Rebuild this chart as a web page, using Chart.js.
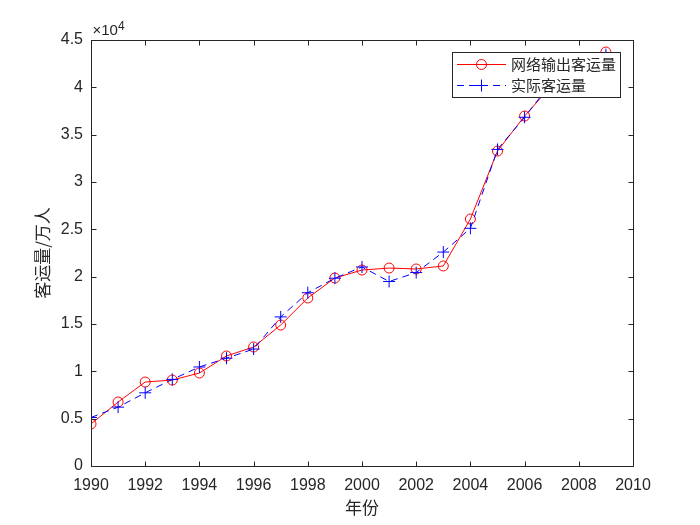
<!DOCTYPE html>
<html>
<head>
<meta charset="utf-8">
<script src="https://cdn.jsdelivr.net/npm/chart.js@4"></script>
<style>
  html, body { margin: 0; padding: 0; background: #fff; }
  #wrap { width: 700px; height: 525px; }
</style>
</head>
<body>
<div id="wrap"><canvas id="myChart" width="700" height="525"></canvas></div>
<script>
const years = [1990, 1991, 1992, 1993, 1994, 1995, 1996, 1997, 1998, 1999,
               2000, 2001, 2002, 2003, 2004, 2005, 2006, 2007, 2008, 2009];
const netOutput = [4440, 6760, 8870, 9080, 9820, 11620, 12570, 14890, 17750, 19860,
                   20700, 20910, 20810, 21130, 26090, 33270, 36970, 40200, 42600, 43730];
const actual = [5126, 6217, 7730, 9145, 10460, 11387, 12353, 15750, 18304, 19836,
                21024, 19490, 20433, 22598, 25107, 33442, 36836, 40548, 42927, 43462];
const seriesNames = ["网络输出客运量", "实际客运量"];
const xTitle = "年份";
const yTitle = "客运量/万人";

const axisColor = "#262626";
const cjkFont = "'Noto Sans CJK SC', 'Noto Sans', sans-serif";
const numFont = "'Liberation Sans', Arial, sans-serif";

function toPoints(vals) {
    return years.map(function (y, i) { return { x: y, y: vals[i] }; });
}

// box round the plot, inward ticks on all sides, x10^4 note and legend
const matlabStyle = {
    id: "matlabStyle",
    afterDraw: function (chart) {
        const ctx = chart.ctx;
        const a = chart.chartArea;
        const xs = chart.scales.x;
        const ys = chart.scales.y;
        const L = Math.round(a.left) + 0.5, R = Math.round(a.right) + 0.5;
        const T = Math.round(a.top) + 0.5, B = Math.round(a.bottom) + 0.5;
        ctx.save();
        ctx.strokeStyle = axisColor;
        ctx.lineWidth = 1;
        ctx.strokeRect(L, T, R - L, B - T);
        ctx.beginPath();
        xs.ticks.forEach(function (t) {
            const px = Math.round(xs.getPixelForValue(t.value)) + 0.5;
            ctx.moveTo(px, B); ctx.lineTo(px, B - 5);
            ctx.moveTo(px, T); ctx.lineTo(px, T + 5);
        });
        ys.ticks.forEach(function (t) {
            const py = Math.round(ys.getPixelForValue(t.value)) + 0.5;
            ctx.moveTo(L, py); ctx.lineTo(L + 5, py);
            ctx.moveTo(R, py); ctx.lineTo(R - 5, py);
        });
        ctx.stroke();

        // exponent note
        ctx.fillStyle = axisColor;
        ctx.textBaseline = "alphabetic";
        ctx.textAlign = "left";
        ctx.font = "15px " + numFont;
        ctx.fillText("\u00d710", L + 1, 35);
        const w = ctx.measureText("\u00d710").width;
        ctx.font = "12px " + numFont;
        ctx.fillText("4", L + 1 + w, 30);

        // legend
        const lx = 452.5, ly = 52.5, lw = 168, lh = 45;
        ctx.fillStyle = "#ffffff";
        ctx.fillRect(lx, ly, lw, lh);
        ctx.strokeStyle = axisColor;
        ctx.strokeRect(lx, ly, lw, lh);

        const rows = [
            { y: 64.5, color: "#ff0000", dash: [], marker: "circle" },
            { y: 85.5, color: "#0000ff", dash: [7, 5], marker: "cross" }
        ];
        rows.forEach(function (r, i) {
            ctx.strokeStyle = r.color;
            ctx.lineWidth = 1;
            ctx.setLineDash(r.dash);
            ctx.beginPath();
            ctx.moveTo(457, r.y); ctx.lineTo(506, r.y);
            ctx.stroke();
            ctx.setLineDash([]);
            ctx.beginPath();
            if (r.marker === "circle") {
                ctx.arc(481.5, r.y, 5, 0, Math.PI * 2);
            } else {
                ctx.moveTo(475.5, r.y); ctx.lineTo(487.5, r.y);
                ctx.moveTo(481.5, r.y - 6); ctx.lineTo(481.5, r.y + 6);
            }
            ctx.stroke();
            ctx.fillStyle = axisColor;
            ctx.font = "15px " + cjkFont;
            ctx.textBaseline = "middle";
            ctx.fillText(seriesNames[i], 511, r.y);
        });
        ctx.restore();
    }
};

new Chart("myChart", {
    type: "line",
    data: {
        datasets: [{
            label: seriesNames[1],
            data: toPoints(actual),
            borderColor: "#0000ff",
            backgroundColor: "transparent",
            borderWidth: 1,
            borderDash: [7, 5],
            pointStyle: "cross",
            pointRadius: 6,
            pointBorderColor: "#0000ff",
            pointBorderWidth: 1,
            tension: 0,
            order: 0
        }, {
            label: seriesNames[0],
            data: toPoints(netOutput),
            borderColor: "#ff0000",
            backgroundColor: "transparent",
            borderWidth: 1,
            pointStyle: "circle",
            pointRadius: 5,
            pointBorderColor: "#ff0000",
            pointBackgroundColor: "transparent",
            pointBorderWidth: 1,
            tension: 0,
            order: 1
        }]
    },
    options: {
        responsive: false,
        animation: false,
        layout: { padding: { left: 0, top: 40, right: 67, bottom: 0 } },
        plugins: {
            legend: { display: false },
            tooltip: { enabled: false }
        },
        scales: {
            x: {
                type: "linear",
                min: 1990,
                max: 2010,
                grid: { display: false, drawTicks: false },
                border: { display: false },
                afterFit: function (s) { s.height = 59; },
                ticks: {
                    stepSize: 2,
                    color: axisColor,
                    padding: 10,
                    maxRotation: 0,
                    font: { family: numFont, size: 16 },
                    callback: function (v) { return String(v); }
                },
                title: {
                    display: true,
                    text: xTitle,
                    color: axisColor,
                    font: { family: cjkFont, size: 17 },
                    padding: { top: 0, bottom: 7 }
                }
            },
            y: {
                min: 0,
                max: 45000,
                grid: { display: false, drawTicks: false },
                border: { display: false },
                afterFit: function (s) { s.width = 91; },
                ticks: {
                    stepSize: 5000,
                    color: axisColor,
                    padding: 8,
                    font: { family: numFont, size: 16 },
                    callback: function (v) { return String(v / 10000); }
                },
                title: {
                    display: true,
                    text: yTitle,
                    color: axisColor,
                    font: { family: cjkFont, size: 17 },
                    padding: { top: 32, bottom: 0 }
                }
            }
        }
    },
    plugins: [matlabStyle]
});
</script>
</body>
</html>
